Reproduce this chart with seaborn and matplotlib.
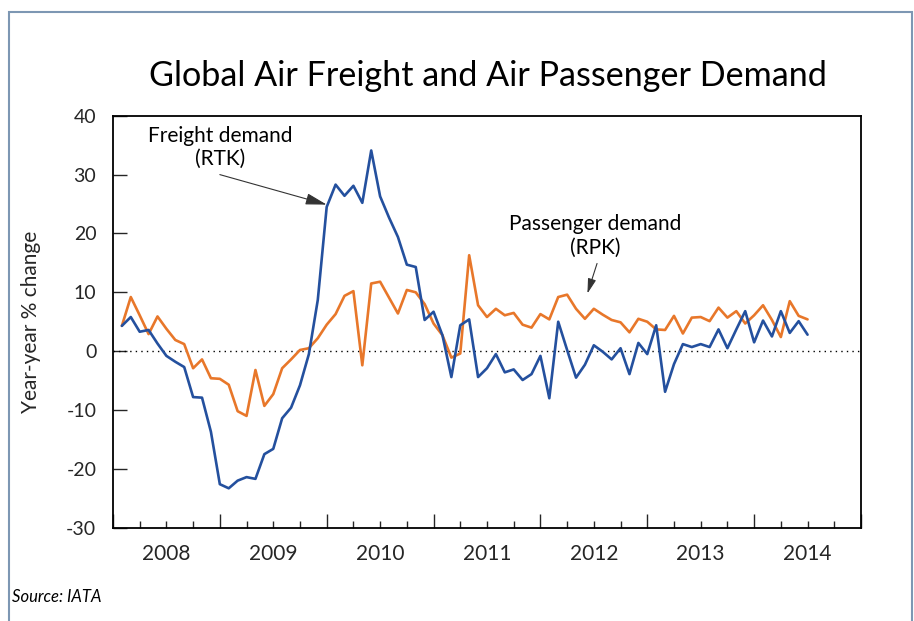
import numpy as np
import pandas as pd
import matplotlib

matplotlib.use("Agg")
import matplotlib.pyplot as plt
from matplotlib.patches import Rectangle
import seaborn as sns

# monthly year-on-year % change, Jan 2008 .. Jun 2014
START_YEAR = 2008
FREIGHT = [
    4.3, 5.8, 3.3, 3.6, 1.3, -0.8, -1.8, -2.7, -7.8, -7.9, -13.7, -22.6,
    -23.3, -22.0, -21.4, -21.7, -17.5, -16.6, -11.4, -9.6, -5.8, -0.5, 8.7, 24.5,
    28.3, 26.4, 28.1, 25.2, 34.1, 26.3, 22.7, 19.4, 14.7, 14.3, 5.3, 6.7,
    2.7, -4.4, 4.4, 5.4, -4.4, -2.9, -0.5, -3.6, -3.1, -4.9, -3.9, -0.8,
    -8.0, 5.0, 0.2, -4.5, -2.3, 1.0, -0.1, -1.4, 0.5, -3.9, 1.4, -0.5,
    4.4, -6.9, -2.2, 1.2, 0.7, 1.2, 0.7, 3.7, 0.5, 3.7, 6.8, 1.5,
    5.2, 2.5, 6.8, 3.1, 5.1, 2.8,
]
PASSENGER = [
    4.3, 9.2, 6.1, 2.9, 5.9, 3.8, 1.9, 1.2, -2.9, -1.4, -4.6, -4.7,
    -5.7, -10.2, -11.0, -3.2, -9.3, -7.3, -2.9, -1.4, 0.2, 0.5, 2.2, 4.5,
    6.3, 9.4, 10.2, -2.4, 11.5, 11.8, 9.1, 6.4, 10.4, 10.0, 8.0, 4.7,
    2.7, -1.1, -0.4, 16.3, 7.8, 5.8, 7.2, 6.1, 6.5, 4.5, 4.0, 6.3,
    5.4, 9.2, 9.6, 7.2, 5.5, 7.2, 6.2, 5.3, 4.9, 3.2, 5.5, 5.0,
    3.7, 3.6, 6.0, 3.0, 5.7, 5.8, 5.1, 7.4, 5.7, 6.8, 4.7, 6.1,
    7.8, 5.3, 2.4, 8.5, 6.0, 5.4,
]
YEARS = [2008, 2009, 2010, 2011, 2012, 2013, 2014]
Y_TICKS = [-30, -20, -10, 0, 10, 20, 30, 40]

BLUE = "#24509e"
ORANGE = "#e8772a"
FONT = ["Lato", "DejaVu Sans"]

sns.set_theme(style="white")
plt.rcParams["font.family"] = FONT
plt.rcParams["text.color"] = "black"

t = START_YEAR + (np.arange(len(FREIGHT)) + 1) / 12
df = pd.DataFrame({"t": t, "Freight": FREIGHT, "Passenger": PASSENGER})
long = df.melt(id_vars="t", var_name="series", value_name="value")

fig = plt.figure(figsize=(9.14, 6.21), dpi=100)
ax = fig.add_axes([0.1236, 0.1502, 0.8184, 0.6634])

sns.lineplot(
    data=long, x="t", y="value", hue="series", hue_order=["Passenger", "Freight"],
    palette={"Freight": BLUE, "Passenger": ORANGE}, lw=1.9, legend=False, ax=ax,
)
ax.axhline(0, color="black", ls=(0, (1, 3)), lw=1, zorder=1)

ax.set_xlim(2008, 2015)
ax.set_ylim(-30, 40)
ax.set_yticks(Y_TICKS)
ax.set_yticklabels([str(v) for v in Y_TICKS])
ax.set_xticks(range(2008, 2016))
ax.set_xticklabels([])
quarters = [y + q / 4 for y in YEARS for q in (1, 2, 3)]
ax.set_xticks(quarters, minor=True)
ax.set_xticklabels([str(int(q)) if q % 1 == 0.5 else "" for q in quarters], minor=True)
ax.tick_params(axis="y", direction="in", length=10, width=1, labelsize=14, pad=12, left=True)
ax.tick_params(axis="x", which="major", direction="in", length=10, width=1, bottom=True)
ax.tick_params(axis="x", which="minor", direction="in", length=5, width=1, labelsize=15, pad=12, bottom=True)
for s in ax.spines.values():
    s.set_color("black")
    s.set_linewidth(1.3)

ax.set_xlabel("")
ax.set_ylabel("Year-year % change", fontsize=15, labelpad=18)

ax.text(2009.0, 34.6, "Freight demand\n(RTK)", ha="center", va="center",
        fontsize=15, linespacing=1.2)
ax.annotate(
    "", xy=(2010.0, 24.9), xytext=(2009.0, 30.0),
    arrowprops=dict(arrowstyle="-|>,head_length=1.3,head_width=0.35", mutation_scale=10,
                    color="#333333", lw=0.8, shrinkA=0, shrinkB=0),
)
ax.text(2012.51, 19.6, "Passenger demand\n(RPK)", ha="center", va="center",
        fontsize=15, linespacing=1.2)
ax.annotate(
    "", xy=(2012.44, 9.8), xytext=(2012.53, 14.9),
    arrowprops=dict(arrowstyle="-|>,head_length=0.9,head_width=0.25", mutation_scale=10,
                    color="#333333", lw=0.8, shrinkA=0, shrinkB=0),
)

fig.text(0.534, 0.878, "Global Air Freight and Air Passenger Demand",
         ha="center", va="center", fontsize=24.6)
fig.text(0.013, 0.039, "Source: IATA", ha="left", va="center", fontsize=12, style="italic")

fig.patches.append(Rectangle((0.010, -0.05), 0.988, 1.031, transform=fig.transFigure,
                             fill=False, edgecolor="#7d97b3", lw=1.5))

fig.savefig("out.png", dpi=100, facecolor="white")
